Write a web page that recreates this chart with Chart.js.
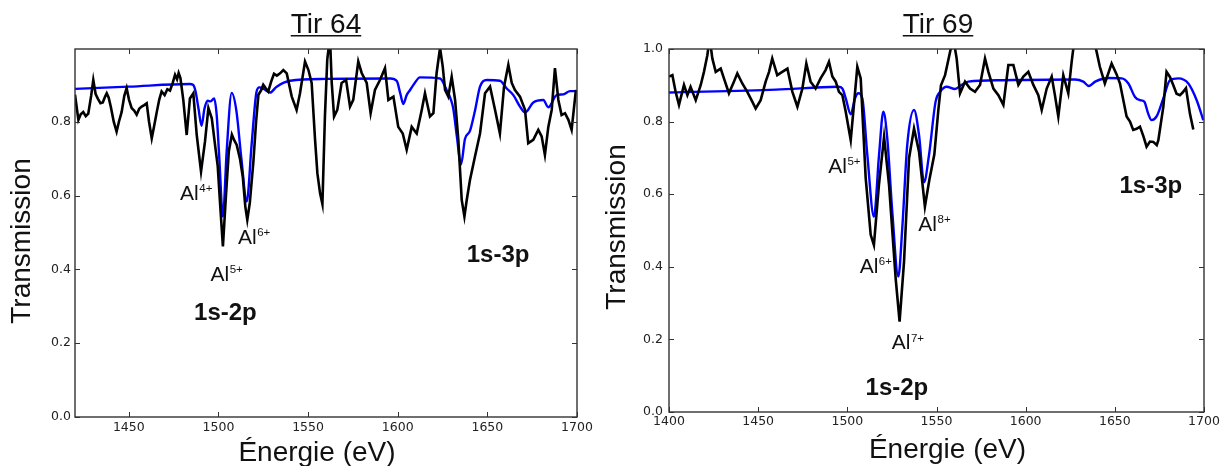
<!DOCTYPE html>
<html>
<head>
<meta charset="utf-8">
<script src="https://cdn.jsdelivr.net/npm/chart.js@4.4.1/dist/chart.umd.min.js"></script>
<style>
  html, body { margin: 0; padding: 0; background: #fff; }
  #wrap { position: relative; width: 1227px; height: 466px; overflow: hidden; }
  canvas { position: absolute; top: 0; }
  #c64 { left: 0; }
  #c69 { left: 600px; }
</style>
</head>
<body>
<div id="wrap">
  <canvas id="c64" width="600" height="466"></canvas>
  <canvas id="c69" width="627" height="466"></canvas>
</div>
<script>
// ---- Tir 64 : measured transmission (black) ----
const tir64Energy = [
  1420.0, 1421.9, 1423.2, 1424.6, 1426.0, 1427.4, 1429.0, 1430.2, 1431.5, 1432.8,
  1434.2, 1435.5, 1436.8, 1437.7, 1438.8, 1440.0, 1441.6, 1443.2, 1444.5, 1446.0,
  1447.5, 1448.8, 1450.1, 1451.6, 1453.0, 1454.4, 1455.8, 1457.2, 1458.6, 1460.0,
  1461.3, 1462.8, 1464.2, 1465.6, 1467.0, 1468.3, 1470.0, 1471.5, 1473.0, 1474.5,
  1475.8, 1476.9, 1477.8, 1478.8, 1480.4, 1482.3, 1484.1, 1486.0, 1487.9, 1490.3,
  1492.5, 1494.4, 1496.3, 1498.3, 1499.6, 1500.9, 1502.5, 1504.2, 1505.8, 1507.5,
  1508.8, 1510.2, 1512.0, 1513.6, 1515.0, 1516.1, 1517.5, 1519.5, 1521.0, 1522.3,
  1523.8, 1525.0, 1526.5, 1527.8, 1529.5, 1531.0, 1532.6,
  1534.4, 1536.2, 1538.1, 1540.9, 1543.6, 1545.5, 1548.3, 1550.2, 1552.0, 1553.9,
  1555.2, 1556.7, 1558.0, 1559.4, 1560.7, 1562.2, 1563.2, 1564.5, 1566.3, 1568.7,
  1571.2, 1573.4, 1575.2, 1578.0, 1579.9, 1582.7, 1584.9, 1587.3, 1590.1, 1592.9,
  1594.8, 1597.6, 1600.3, 1602.8, 1605.0, 1607.8, 1610.6, 1613.4, 1615.2, 1618.0,
  1619.9, 1621.7, 1623.6, 1625.1, 1626.4, 1628.2, 1630.1, 1632.0, 1633.8, 1635.7,
  1637.2, 1638.5, 1640.3, 1643.1, 1645.9, 1648.7, 1651.5, 1654.3, 1657.0, 1659.3,
  1661.7, 1663.6, 1665.4, 1668.2, 1671.0, 1672.8, 1675.6, 1678.4, 1680.3, 1682.1,
  1684.0, 1685.9, 1687.7, 1689.6, 1691.4, 1693.3, 1695.2, 1697.0, 1698.0, 1699.4
];
const tir64Measured = [
  0.873, 0.805, 0.820, 0.826, 0.815, 0.822, 0.870, 0.913, 0.875, 0.862,
  0.850, 0.852, 0.868, 0.877, 0.865, 0.840, 0.800, 0.773, 0.800, 0.826,
  0.870, 0.891, 0.860, 0.837, 0.830, 0.819, 0.835, 0.841, 0.845, 0.850,
  0.800, 0.755, 0.790, 0.826, 0.860, 0.882, 0.872, 0.888, 0.884, 0.905,
  0.927, 0.915, 0.932, 0.918, 0.859, 0.764, 0.863, 0.877, 0.764, 0.665,
  0.746, 0.837, 0.809, 0.730, 0.680, 0.580, 0.462, 0.600, 0.720, 0.765,
  0.750, 0.737, 0.700, 0.650, 0.570, 0.534, 0.580, 0.692, 0.800, 0.873,
  0.885, 0.900, 0.890, 0.882, 0.910, 0.930, 0.925,
  0.931, 0.940, 0.931, 0.868, 0.832, 0.877, 0.963, 0.940, 0.905, 0.751,
  0.660, 0.606, 0.577, 0.814, 0.968, 1.030, 0.905, 0.814, 0.832, 0.905,
  0.913, 0.841, 0.859, 0.963, 0.932, 0.905, 0.823, 0.886, 0.913, 0.945,
  0.859, 0.868, 0.786, 0.768, 0.724, 0.786, 0.768, 0.832, 0.877, 0.814,
  0.823, 0.932, 1.000, 0.950, 0.886, 0.868, 0.922, 0.859, 0.751, 0.588,
  0.543, 0.588, 0.642, 0.706, 0.768, 0.877, 0.895, 0.832, 0.768, 0.895,
  0.954, 0.905, 0.886, 0.868, 0.832, 0.742, 0.751, 0.778, 0.760, 0.710,
  0.786, 0.832, 0.945, 0.859, 0.818, 0.823, 0.805, 0.778, 0.823, 0.886
];

// ---- Tir 64 : fitted model (blue) ----
const tir64FitEnergy = [
  1420.0, 1450.0, 1484.0, 1485.8, 1487.2, 1488.9, 1490.6, 1492.2, 1494.0, 1495.5,
  1497.6, 1499.0, 1500.5, 1502.5, 1504.6, 1507.4, 1510.0, 1512.8, 1515.8, 1518.5,
  1521.2, 1522.8, 1525.5, 1528.8, 1532.5, 1540.0, 1560.0, 1596.0, 1599.5, 1601.5,
  1603.1, 1605.0, 1606.9, 1609.5, 1612.4, 1623.6, 1627.3, 1629.5, 1631.0, 1633.0,
  1635.3, 1637.5, 1640.3, 1643.1, 1645.9, 1649.6, 1657.0, 1660.8, 1664.5, 1668.2,
  1671.0, 1675.6, 1681.2, 1684.0, 1688.6, 1692.4, 1696.1, 1700.0
];
const tir64Fit = [
  0.889, 0.895, 0.902, 0.900, 0.883, 0.835, 0.789, 0.835, 0.857, 0.855,
  0.863, 0.820, 0.700, 0.543, 0.720, 0.878, 0.830, 0.700, 0.584, 0.737,
  0.880, 0.893, 0.888, 0.879, 0.895, 0.911, 0.916, 0.917, 0.910, 0.875,
  0.848, 0.872, 0.886, 0.905, 0.920, 0.917, 0.886, 0.862, 0.835, 0.760,
  0.684, 0.753, 0.775, 0.830, 0.895, 0.913, 0.911, 0.890, 0.872, 0.841,
  0.825, 0.852, 0.859, 0.839, 0.872, 0.874, 0.883, 0.883
];

// ---- Tir 69 : measured transmission (black) ----
const tir69Energy = [
  1400.0, 1401.9, 1403.7, 1405.6, 1408.4, 1410.3, 1412.1, 1415.0, 1417.8, 1419.6,
  1421.5, 1422.8, 1424.3, 1426.2, 1429.0, 1430.8, 1433.6, 1436.4, 1438.3, 1441.1,
  1443.9, 1446.7, 1448.6, 1451.4, 1454.2, 1456.1, 1457.9, 1460.7, 1463.5, 1466.4,
  1469.2, 1472.0, 1474.8, 1477.0, 1479.4, 1482.2, 1485.0, 1487.8, 1489.7, 1491.6,
  1493.5, 1495.3, 1497.2, 1499.1, 1501.9, 1503.7, 1505.6, 1507.5, 1510.3, 1513.1,
  1514.9, 1517.7, 1520.6, 1523.4, 1527.1, 1529.3, 1531.8, 1534.6, 1537.4, 1540.2,
  1543.5, 1546.0, 1548.8, 1551.0, 1552.5, 1554.8, 1557.6, 1559.4, 1561.3, 1563.2,
  1566.0, 1568.8, 1571.6, 1574.4, 1577.2, 1579.1, 1581.9, 1584.7, 1587.5, 1590.3,
  1593.1, 1595.9, 1598.7, 1601.5, 1604.3, 1607.1, 1609.0, 1611.8, 1614.6, 1616.4,
  1618.3, 1621.1, 1623.9, 1625.8, 1627.7, 1632.0, 1637.5, 1639.8, 1641.6, 1644.4,
  1648.2, 1651.0, 1652.9, 1656.6, 1658.5, 1660.3, 1662.2, 1664.1, 1666.0, 1667.8,
  1669.7, 1671.6, 1673.5, 1674.4, 1677.2, 1679.0, 1680.9, 1682.8, 1684.6, 1686.5,
  1688.0, 1689.9, 1692.1, 1694.0
];
const tir69Measured = [
  0.924, 0.928, 0.882, 0.846, 0.901, 0.873, 0.896, 0.859, 0.901, 0.937,
  0.983, 1.030, 0.974, 0.937, 0.946, 0.919, 0.878, 0.910, 0.933, 0.905,
  0.882, 0.855, 0.836, 0.859, 0.910, 0.937, 0.974, 0.928, 0.937, 0.946,
  0.882, 0.841, 0.891, 0.960, 0.910, 0.891, 0.919, 0.942, 0.965, 0.924,
  0.910, 0.882, 0.873, 0.827, 0.749, 0.846, 0.951, 0.919, 0.644, 0.488,
  0.460, 0.625, 0.758, 0.625, 0.368, 0.249, 0.415, 0.699, 0.781, 0.717,
  0.566, 0.640, 0.710, 0.830, 0.900, 0.928, 0.992, 1.030, 0.974, 0.878,
  0.910, 0.891, 0.882, 0.901, 0.974, 0.937, 0.891, 0.873, 0.846, 0.956,
  0.956, 0.901, 0.924, 0.937, 0.901, 0.873, 0.832, 0.891, 0.924, 0.873,
  0.814, 0.928, 0.878, 0.965, 1.040, 1.060, 1.040, 0.992, 0.951, 0.905,
  0.960, 0.930, 0.905, 0.814, 0.800, 0.777, 0.780, 0.786, 0.760, 0.731,
  0.745, 0.744, 0.735, 0.749, 0.841, 0.937, 0.923, 0.900, 0.877, 0.873,
  0.880, 0.892, 0.822, 0.778
];

// ---- Tir 69 : fitted model (blue) ----
const tir69FitEnergy = [
  1400.0, 1460.0, 1495.0, 1497.2, 1499.1, 1501.9, 1504.3, 1506.2, 1508.4, 1511.2,
  1514.9, 1517.8, 1520.2, 1522.4, 1525.2, 1528.6, 1530.8, 1533.6, 1537.4, 1540.2,
  1543.0, 1545.8, 1549.5, 1552.0, 1555.7, 1560.4, 1564.0, 1567.8, 1586.5, 1627.7,
  1632.3, 1635.5, 1639.0, 1646.3, 1653.8, 1657.6, 1661.3, 1664.1, 1666.5, 1668.7,
  1670.6, 1673.5, 1677.2, 1680.9, 1685.6, 1691.2, 1695.9, 1699.6
];
const tir69Fit = [
  0.880, 0.888, 0.896, 0.891, 0.864, 0.820, 0.864, 0.878, 0.864, 0.709,
  0.538, 0.709, 0.827, 0.754, 0.552, 0.373, 0.506, 0.736, 0.832, 0.763,
  0.633, 0.708, 0.855, 0.882, 0.896, 0.890, 0.901, 0.910, 0.914, 0.916,
  0.910, 0.898, 0.910, 0.920, 0.919, 0.905, 0.868, 0.859, 0.855, 0.822,
  0.804, 0.815, 0.864, 0.914, 0.919, 0.905, 0.859, 0.804
];

// ---- axis ticks ----
const tir64XTicks = [1450, 1500, 1550, 1600, 1650, 1700];
const tir64YTicks = [0.0, 0.2, 0.4, 0.6, 0.8];
const tir69XTicks = [1400, 1450, 1500, 1550, 1600, 1650, 1700];
const tir69YTicks = [0.0, 0.2, 0.4, 0.6, 0.8, 1.0];

// ---- peak labels (energy, transmission) ----
const tir64Labels = [
  { text: 'Al', sup: '4+', e: 1478.6, t: 0.588 },
  { text: 'Al', sup: '6+', e: 1510.9, t: 0.469 },
  { text: 'Al', sup: '5+', e: 1495.6, t: 0.369 },
  { text: '1s-2p', bold: true, e: 1503.9, t: 0.263 },
  { text: '1s-3p', bold: true, e: 1656.0, t: 0.421 }
];
const tir69Labels = [
  { text: 'Al', sup: '5+', e: 1489.3, t: 0.659 },
  { text: 'Al', sup: '6+', e: 1506.9, t: 0.384 },
  { text: 'Al', sup: '7+', e: 1524.9, t: 0.173 },
  { text: 'Al', sup: '8+', e: 1539.8, t: 0.499 },
  { text: '1s-2p', bold: true, e: 1527.8, t: 0.047 },
  { text: '1s-3p', bold: true, e: 1670.2, t: 0.602 }
];

Chart.defaults.font.family = '"DejaVu Sans", sans-serif';
Chart.defaults.font.size = 12.5;
Chart.defaults.color = '#222';

function pts(xs, ys) {
  return xs.map((x, i) => ({ x: x, y: ys[i] }));
}

// frame, inward ticks on 4 sides, titles and text labels
const decor = {
  id: 'decor',
  afterDraw(chart, args, o) {
    const { ctx, chartArea: a, scales: { x, y } } = chart;
    const sans = '"Liberation Sans", Arial, sans-serif';
    ctx.save();
    ctx.strokeStyle = '#333';
    ctx.lineWidth = 1.4;
    ctx.strokeRect(a.left, a.top, a.right - a.left, a.bottom - a.top);
    ctx.lineWidth = 1;
    ctx.beginPath();
    x.ticks.forEach(t => {
      const px = Math.round(x.getPixelForValue(t.value)) + 0.5;
      ctx.moveTo(px, a.bottom); ctx.lineTo(px, a.bottom - 5);
      ctx.moveTo(px, a.top); ctx.lineTo(px, a.top + 5);
    });
    y.ticks.forEach(t => {
      const py = Math.round(y.getPixelForValue(t.value)) + 0.5;
      ctx.moveTo(a.left, py); ctx.lineTo(a.left + 5, py);
      ctx.moveTo(a.right, py); ctx.lineTo(a.right - 5, py);
    });
    ctx.stroke();

    ctx.fillStyle = '#111';
    // title, underlined
    ctx.font = '28px ' + sans;
    ctx.textAlign = 'center';
    ctx.textBaseline = 'alphabetic';
    ctx.fillText(o.title, o.titleX, 33);
    const tw = ctx.measureText(o.title).width;
    ctx.fillRect(o.titleX - tw / 2, 35, tw, 1.5);

    // axis titles
    ctx.fillText(o.xTitle, o.xTitleX, o.xTitleY);
    ctx.save();
    ctx.translate(o.yTitleX, o.yTitleY);
    ctx.rotate(-Math.PI / 2);
    ctx.textBaseline = 'middle';
    ctx.fillText(o.yTitle, 0, 0);
    ctx.restore();

    // peak labels
    o.labels.forEach(l => {
      const px = x.getPixelForValue(l.e);
      const py = y.getPixelForValue(l.t);
      if (l.bold) {
        ctx.font = 'bold 24px ' + sans;
        ctx.textAlign = 'center';
        ctx.fillText(l.text, px, py);
      } else {
        ctx.font = '21px ' + sans;
        ctx.textAlign = 'left';
        ctx.fillText(l.text, px, py);
        const w = ctx.measureText(l.text).width;
        ctx.font = '11.5px ' + sans;
        ctx.fillText(l.sup, px + w + 0.5, py - 7.5);
      }
    });
    ctx.restore();
  }
};

function makeChart(id, opts) {
  const ctx = document.getElementById(id).getContext('2d');
  return new Chart(ctx, {
    type: 'line',
    data: {
      datasets: [
        {
          data: pts(opts.energy, opts.measured),
          borderColor: '#000',
          borderWidth: 2.6,
          pointRadius: 0,
          tension: 0,
          clip: 0
        },
        {
          data: pts(opts.fitEnergy, opts.fit),
          borderColor: '#0000ff',
          borderWidth: 2.4,
          pointRadius: 0,
          cubicInterpolationMode: 'monotone',
          clip: 0
        }
      ]
    },
    options: {
      responsive: false,
      animation: false,
      events: [],
      layout: { padding: { top: 49, right: 23, left: 0, bottom: 0 } },
      scales: {
        x: {
          type: 'linear',
          bounds: 'data',
          min: opts.xMin,
          max: 1700,
          grid: { display: false, drawTicks: false },
          border: { display: false },
          ticks: { padding: opts.xPad, maxRotation: 0, autoSkip: false,
                   callback: v => String(v) },
          afterBuildTicks: s => { s.ticks = opts.xTicks.map(v => ({ value: v })); },
          afterFit: s => { s.height = opts.xHeight; }
        },
        y: {
          type: 'linear',
          bounds: 'data',
          min: 0,
          max: opts.yMax,
          grid: { display: false, drawTicks: false },
          border: { display: false },
          ticks: { padding: opts.yPad, autoSkip: false,
                   callback: v => Number(v).toFixed(1) },
          afterBuildTicks: s => { s.ticks = opts.yTicks.map(v => ({ value: v })); },
          afterFit: s => { s.width = opts.yWidth; }
        }
      },
      plugins: {
        legend: { display: false },
        tooltip: { enabled: false },
        decor: {
          title: opts.title, titleX: opts.titleX,
          xTitle: 'Énergie (eV)', xTitleX: opts.xTitleX, xTitleY: opts.xTitleY,
          yTitle: 'Transmission', yTitleX: opts.yTitleX, yTitleY: opts.yTitleY,
          labels: opts.labels
        }
      }
    },
    plugins: [decor]
  });
}

makeChart('c64', {
  energy: tir64Energy, measured: tir64Measured,
  fitEnergy: tir64FitEnergy, fit: tir64Fit,
  xMin: 1420, yMax: 0.997,
  xTicks: tir64XTicks, yTicks: tir64YTicks,
  xHeight: 49, yWidth: 75, xPad: 3, yPad: 4,
  title: 'Tir 64', titleX: 326,
  xTitleX: 317, xTitleY: 461, yTitleX: 22, yTitleY: 241,
  labels: tir64Labels
});

makeChart('c69', {
  energy: tir69Energy, measured: tir69Measured,
  fitEnergy: tir69FitEnergy, fit: tir69Fit,
  xMin: 1400, yMax: 1.0,
  xTicks: tir69XTicks, yTicks: tir69YTicks,
  xHeight: 54, yWidth: 69, xPad: 2.5, yPad: 6,
  title: 'Tir 69', titleX: 338,
  xTitleX: 347.5, xTitleY: 458, yTitleX: 17, yTitleY: 227,
  labels: tir69Labels
});
</script>
</body>
</html>
